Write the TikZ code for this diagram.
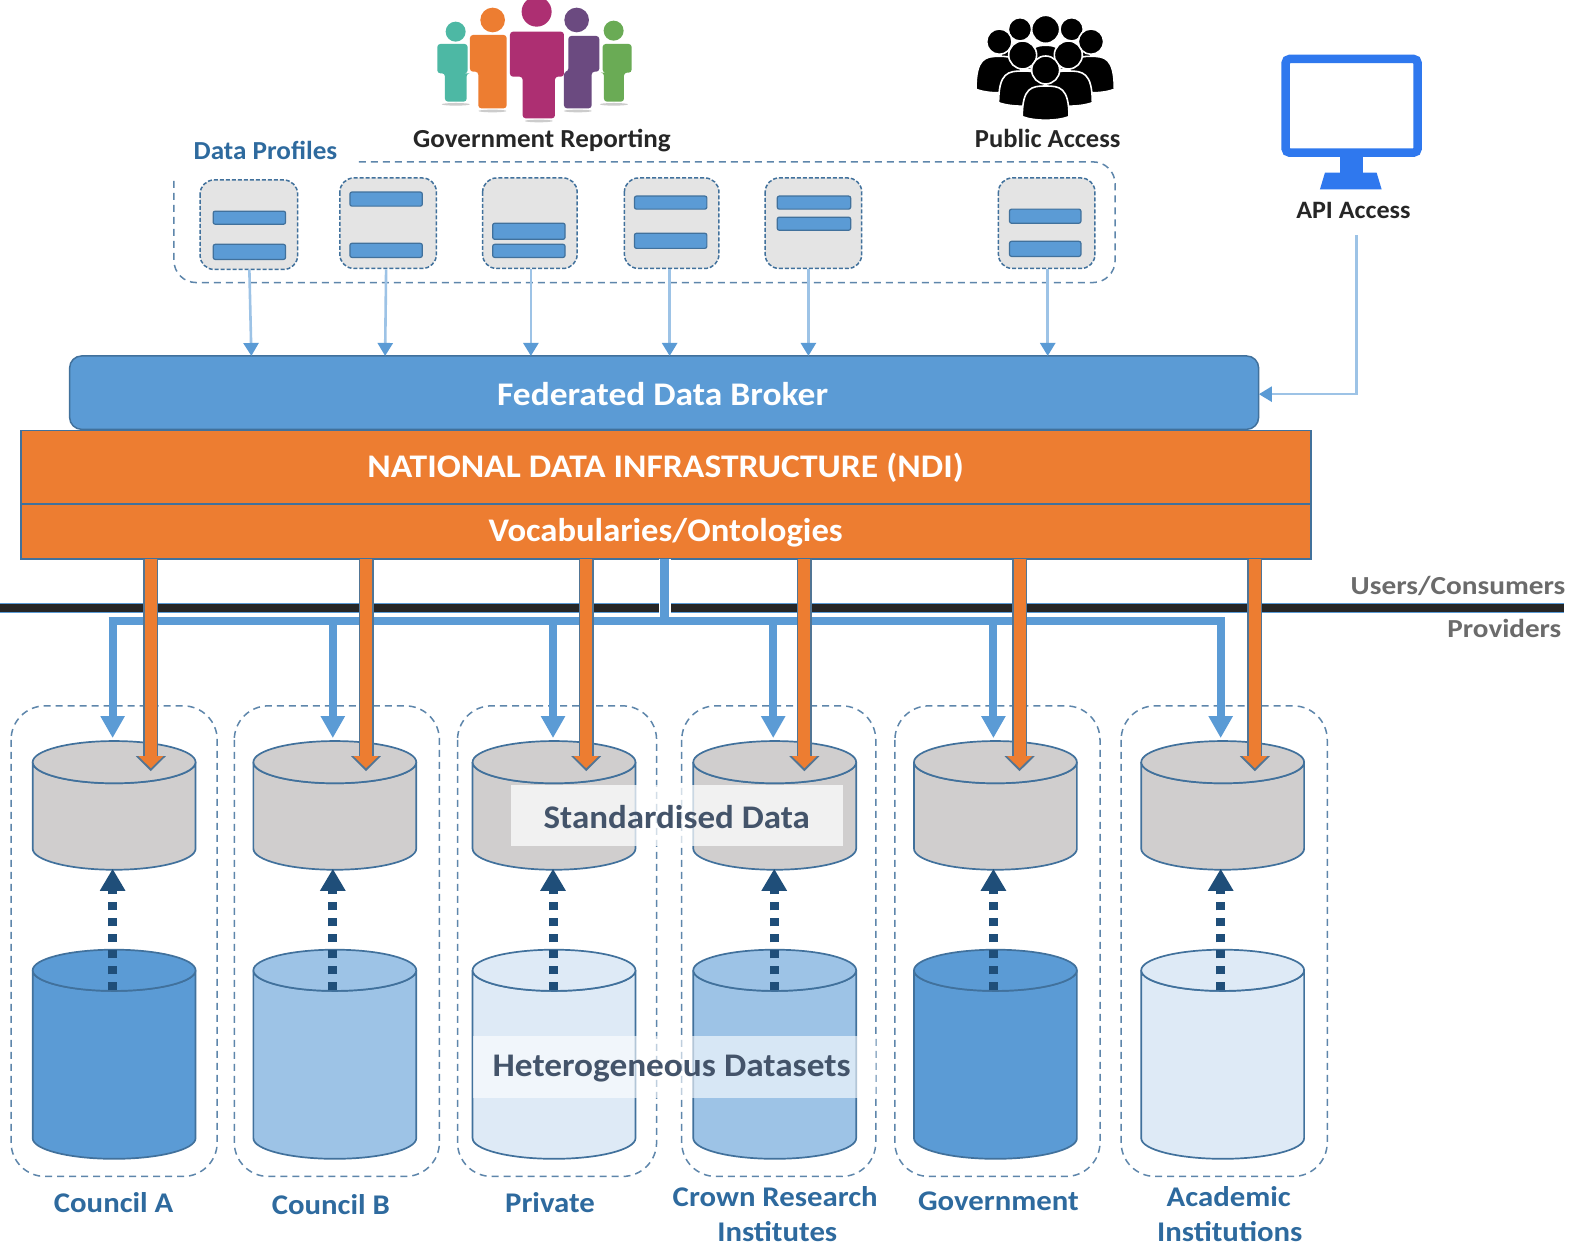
\documentclass[tikz,border=0pt]{standalone}
\usepackage{fontspec}
\setmainfont{Carlito}
\usetikzlibrary{arrows.meta,calc}
\definecolor{bluemain}{HTML}{5B9BD5}
\definecolor{bluemid}{HTML}{9DC3E6}
\definecolor{bluelight}{HTML}{DEEAF6}
\definecolor{edgeblue}{HTML}{41719C}
\definecolor{navy}{HTML}{1F4E79}
\definecolor{orangemain}{HTML}{ED7D31}
\definecolor{cylgrey}{HTML}{D0CECE}
\definecolor{boxgrey}{HTML}{E4E4E4}
\definecolor{labelblue}{HTML}{2E6A9E}
\definecolor{slate}{HTML}{44546A}
\definecolor{monitorblue}{HTML}{2F78EE}
\definecolor{linedark}{HTML}{262626}
\definecolor{pteal}{HTML}{4DB8A4}
\definecolor{pgreen}{HTML}{6AAB55}
\definecolor{pviolet}{HTML}{6B4A80}
\definecolor{pmagenta}{HTML}{AD2F72}
\newcommand{\sz}[2]{\addfontfeatures{FakeStretch=#2}\fontsize{#1pt}{#1pt}\selectfont}
\tikzset{
  dashbox/.style={draw=edgeblue!85,dash pattern=on 7pt off 5pt,line width=1.5pt,rounded corners=34pt},
  profilebox/.style={draw=edgeblue,dash pattern=on 4pt off 2pt,line width=1.5pt,fill=boxgrey,rounded corners=14pt},
  barbox/.style={draw=edgeblue,line width=1.2pt,fill=bluemain,rounded corners=2pt},
  thinarrow/.style={draw=bluemid,line width=2.6pt,-{Triangle[width=15pt,length=13pt,color=bluemain]}},
  bluearrow/.style={draw=bluemain,line width=8pt,-{Triangle[width=23pt,length=22pt]}},
  orangeedge/.style={draw=edgeblue!75!gray,line width=15pt,-{Triangle[width=29pt,length=15pt]}},
  orangecore/.style={draw=orangemain,line width=12pt,-{Triangle[width=24pt,length=12pt]}},
  dotarrow/.style={draw=navy,line width=9pt,dash pattern=on 8pt off 8pt,-{Triangle[width=24pt,length=22pt,color=navy]}},
  white label/.style={text=white,inner sep=0pt},
  col label/.style={font=\bfseries\sz{28.5}{1.08},text=labelblue,inner sep=0pt,align=center},
  icon label/.style={text=black!85,inner sep=0pt},
  side label/.style={text=black!58,inner sep=0pt,anchor=east},
  overlay label/.style={text=slate,inner sep=0pt},
  cylline/.style={draw=edgeblue,line width=1.7pt},
}
% cylinder: name, centre x, top-ellipse y, bottom-ellipse y, ry, fill
\newcommand{\cyl}[6]{%
  \path[cylline,fill=#6] (#2-81,#3) -- (#2-81,#4) arc[start angle=180,end angle=360,x radius=81,y radius=-#5] -- (#2+81,#3) arc[start angle=0,end angle=-180,x radius=81,y radius=-#5] -- cycle;
  \path[cylline,fill=#6] (#2,#3) ellipse[x radius=81,y radius=#5];
  \coordinate (#1) at (#2,#3);
}
\newcommand{\bust}[5]{% cx, cy head, r, halfwidth body, bottom
  \path[fill=black,draw=white,line width=1.6pt] (#1-#4,#5) .. controls (#1-#4,#2+#3+10) and (#1-#4*.6,#2+#3+6) .. (#1,#2+#3+6) .. controls (#1+#4*.6,#2+#3+6) and (#1+#4,#2+#3+10) .. (#1+#4,#5) .. controls (#1+#4*.5,#5+14) and (#1-#4*.5,#5+14) .. cycle;
  \path[fill=black,draw=white,line width=1.6pt] (#1,#2) circle[radius=#3];
}
% headx,heady,r,bodyL,bodyR,bodyT,armB,colour,bottom; legs in \legL,\legR
\newcommand{\person}[9]{%
  \fill[black!20] (\legL/2+\legR/2,#9+8) ellipse[x radius=42,y radius=4];
  \fill[#8] (#1,#2) circle[radius=#3];
  \fill[#8,rounded corners=3pt] (#4,#6) -- (#5,#6) -- (#5,#7) -- (\legR,#7) -- (\legR,#9) -- (\legL,#9) -- (\legL,#7) -- (#4,#7) -- cycle;
}
\begin{document}
\begin{tikzpicture}[x=1.0055pt,y=-1.0055pt]
\useasboundingbox (0,0) rectangle (1567.4,1239.2);
\fill[white] (0,0) rectangle (1567.4,1239.2);

% ---- people icon (coordinates of 3x crop)
\begin{scope}[shift={(397.8,0)},x=0.3333pt,y=-0.3333pt]
\def\legL{135}\def\legR{200}
\person{167}{95}{30}{112}{203}{132}{220}{pteal}{305}
\def\legL{612}\def\legR{672}
\person{641}{92}{30}{608}{695}{132}{218}{pgreen}{305}
\def\legL{235}\def\legR{320}
\person{278}{60}{37}{210}{320}{105}{215}{orangemain}{325}
\def\legL{492}\def\legR{575}
\person{530}{60}{37}{505}{598}{108}{215}{pviolet}{325}
\def\legL{368}\def\legR{465}
\person{410}{35}{45}{330}{492}{95}{230}{pmagenta}{355}
\end{scope}

% ---- public icon
\begin{scope}[shift={(944.8,0)},x=0.3333pt,y=-0.3333pt]
\bust{210}{88}{35}{60}{200}
\bust{365}{88}{35}{60}{200}
\bust{148}{125}{38}{70}{268}
\bust{423}{125}{38}{70}{268}
\bust{287}{88}{42}{50}{200}
\bust{218}{165}{42}{72}{308}
\bust{355}{165}{42}{72}{308}
\bust{287}{210}{42}{70}{350}
\end{scope}

% ---- monitor
\begin{scope}[shift={(944.8,0)},x=0.3333pt,y=-0.3333pt]
\fill[monitorblue] (1170,465) rectangle (1240,525);
\fill[monitorblue] (1125,518) -- (1280,518) -- (1295,568) -- (1110,568) -- cycle;
\draw[monitorblue,line width=8.5pt,fill=white,rounded corners=4pt] (1007,177) rectangle (1403,458);
\end{scope}
\node[icon label,font=\bfseries\sz{26}{1.04}] (govlabel) at (539,139.5) {Government Reporting};
\node[icon label,font=\bfseries\sz{26}{1.02}] (publabel) at (1042,138) {Public Access};
\node[icon label,font=\bfseries\sz{25}{1.045}] (apilabel) at (1346,209) {API Access};
\node[font=\bfseries\sz{26}{1.045},text=labelblue,inner sep=0pt] (dplabel) at (264,150) {Data Profiles};

% ---- profile group
\draw[dashbox,rounded corners=22pt] (173,180) -- (173,281) -- (1109,281) -- (1109,161) -- (355,161);
\foreach \nm/\xa/\ya/\xb/\yb in {p1/199/179/296/268,p2/338/177/434/267,p3/480/177/574/267,p4/621/177/715/267,p5/761/177/857/267,p6/993/177/1089/267}{
  \path[profilebox] (\xa,\ya) rectangle (\xb,\yb);
}
\foreach \xa/\xb/\ya/\yb in {212/284/210/223,212/284/243/258,348/420/191/205,348/420/242/256,490/562/222/238,490/562/243/256,631/703/195/208,631/703/232/247,773/846/195/208,773/846/216/229,1004/1075/208/222,1004/1075/240/255}{
  \path[barbox] (\xa,\ya) rectangle (\xb,\yb);
}

% ---- broker & NDI
\node[draw=edgeblue,line width=1.5pt,fill=bluemain,rounded corners=12pt,minimum width=1189pt,minimum height=73.4pt,inner sep=0pt] (broker) at (660.5,390.5) {};
\node[white label,font=\bfseries\sz{33}{1.075}] at (659,392) {Federated Data Broker};
\node[draw=edgeblue,line width=1.5pt,fill=orangemain,minimum width=1290pt,minimum height=73.4pt,inner sep=0pt] (ndi) at (662.5,464.5) {};
\node[white label,font=\bfseries\sz{33}{1.078}] at (662,465) {NATIONAL DATA INFRASTRUCTURE (NDI)};
\node[draw=edgeblue,line width=1.5pt,fill=orangemain,minimum width=1290pt,minimum height=55.3pt,inner sep=0pt] (voc) at (662.5,528.5) {};
\node[white label,font=\bfseries\sz{33}{1.05}] at (662,529.5) {Vocabularies/Ontologies};

% thin arrows
\foreach \xa/\xb in {248/250,384/383,528/528,666/666,804/804,1042/1042}{
  \coordinate (s) at (\xa,268); \coordinate (e) at (\xb,354);
  \draw[thinarrow] (s) -- (e);
}
\coordinate (apis) at (1349,234);
\coordinate (apie) at (1252,392);
\draw[thinarrow] (apis) |- (apie);

% ---- users line
\coordinate (lineL) at (0,604.5); \coordinate (lineR) at (1555,604.5);
\draw[bluemain,line width=10pt] (lineL) -- (lineR);
\draw[linedark,line width=8pt] (lineL) -- (lineR);
\node[side label,font=\bfseries\sz{26}{1.127}] (users) at (1557,583) {Users/Consumers};
\node[side label,font=\bfseries\sz{26}{1.12}] (prov) at (1553,625) {Providers};

% ---- columns
\foreach \a/\b in {11/216,233/437,455/653,678/871,890/1094,1115/1320}{
  \path[dashbox] (\a,702) rectangle (\b,1170);
}
\foreach \n/\x in {a/113.5,b/333,c/551,d/770.5,e/990,f/1216}{
  \cyl{std\n}{\x}{758}{844}{21}{cylgrey}
}
\cyl{heta}{113.5}{965}{1132}{20.5}{bluemain}
\cyl{hetb}{333}{965}{1132}{20.5}{bluemid}
\cyl{hetc}{551}{965}{1132}{20.5}{bluelight}
\cyl{hetd}{770.5}{965}{1132}{20.5}{bluemid}
\cyl{hete}{990}{965}{1132}{20.5}{bluemain}
\cyl{hetf}{1216}{965}{1132}{20.5}{bluelight}

% blue bus
\coordinate (busL) at (112,618); \coordinate (busR) at (1214,618);
\draw[white,line width=12pt] (661,556) -- (661,612);
\draw[bluemain,line width=9pt] (661,556) -- (661,618);
\foreach \x in {112,331,550,769,988,1214}{
  \draw[bluearrow] (\x,615) -- (\x,734);
}
\draw[bluemain,line width=8pt] ($(busL)+(-4,0)$) -- ($(busR)+(4,0)$);

% orange arrows
\foreach \x in {150,364,583,800,1014,1248}{
  \draw[orangeedge] (\x,556) -- (\x,767);
  \draw[orangecore] (\x,556) -- (\x,764);
}

% dotted arrows
\foreach \x in {112,331,550,770,988,1214}{
  \draw[dotarrow] (\x,985) -- (\x,864);
}

% overlays
\fill[white,opacity=.72] (508,781) rectangle (838,841);
\node[overlay label,font=\bfseries\sz{33}{1.06}] at (673,813) {Standardised Data};
\fill[white,opacity=.6] (470,1030) rectangle (871,1092);
\node[overlay label,font=\bfseries\sz{33}{1.07}] at (668,1062.5) {Heterogeneous Datasets};

% labels
\node[col label] at (113,1196.5) {Council A};
\node[col label] at (329,1198.5) {Council B};
\node[col label] at (547,1196.5) {Private};
\node[col label] at (771,1190.5) {Crown Research};
\node[col label] at (773,1225) {Institutes};
\node[col label] at (993,1194.5) {Government};
\node[col label] at (1222,1190.5) {Academic};
\node[col label] at (1223,1225) {Institutions};
\end{tikzpicture}
\end{document}
